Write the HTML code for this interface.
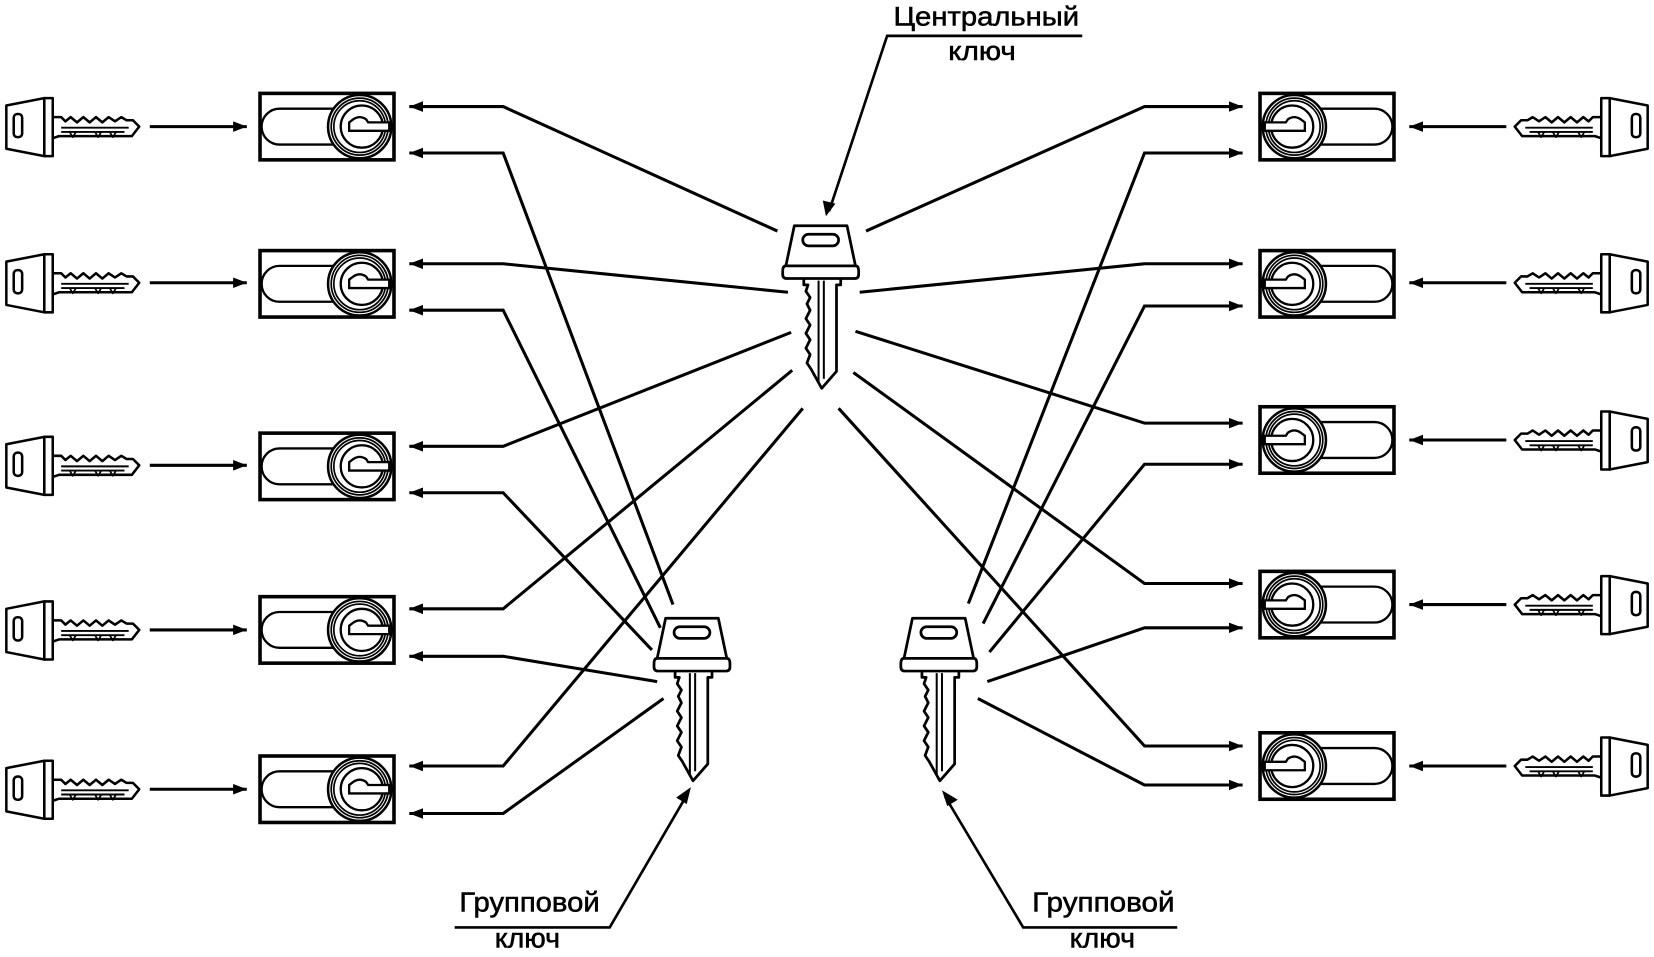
<!DOCTYPE html>
<html><head><meta charset="utf-8"><style>
html,body{margin:0;padding:0;background:#fff;}
svg{display:block;}
text{font-family:"Liberation Sans",Arial,sans-serif;fill:#000;stroke:#000;stroke-width:0.5;}
</style></head><body>
<svg width="1654" height="957" viewBox="0 0 1568 907" preserveAspectRatio="none" xmlns="http://www.w3.org/2000/svg">
<defs>
<marker id="ah" markerUnits="userSpaceOnUse" markerWidth="14" markerHeight="12" refX="13" refY="5" orient="auto">
<path d="M0,0 L13,5 L0,10 z" fill="#000"/>
</marker>
<g id="lock" fill="none" stroke="#000">
<rect x="1.5" y="1.5" width="127" height="63" stroke-width="3.4" fill="#fff"/>
<path d="M72,16 L20,16 A17,17 0 0 0 20,50 L72,50" stroke-width="2.2"/>
<circle cx="96" cy="33" r="30" stroke-width="2.4" fill="#fff"/>
<circle cx="96" cy="33" r="27" stroke-width="1.6"/>
<circle cx="96" cy="33" r="24.5" stroke-width="1.6"/>
<circle cx="98" cy="33" r="20" stroke-width="2.2"/>
<path d="M90,26 Q96,22 102,26 L104,29 L124,29 L124,37 L86,37 L86,29 Z" stroke-width="2.2" fill="#fff"/>
</g>
<g id="sk" fill="#fff" stroke="#000" stroke-width="2.4" stroke-linejoin="round">
<path d="M46,-9 L54,-9 L58,-5 L63,-9 L69,-4 L75,-9 L81,-4 L87,-9 L93,-4 L99,-9 L105,-5 L111,-9 L116,-6 L122,-6 L128,0 L121,9 L52,9 L46,11 Z"/>
<path d="M54,1 L118,1 M54,5 L114,5" fill="none" stroke-width="1.8"/>
<path d="M62,5 L65,10 L68,5 M86,5 L89,10 L92,5 M100,5 L103,10 L106,5" fill="none" stroke-width="1.6"/>
<polygon points="2,-20 38,-27 38,28 2,21"/>
<rect x="38" y="-27" width="8" height="55"/>
<rect x="9" y="-12" width="8" height="22" rx="3.5"/>
</g>
<g id="bk" fill="#fff" stroke="#000" stroke-width="2.6" stroke-linejoin="round">
<path d="M-16,48 L-16,56 L-12,56 L-14,62 L-10,68 L-13,74 L-10,80 L-14,88 L-10,94 L-14,102 L-10,108 L-14,116 L-10,122 L-13,130 L-9,136 L1,154 L15,138 L15,56 L19,56 L19,48 Z"/>
<path d="M-2,52 L-2,148 M3,52 L3,145" fill="none" stroke-width="1.9"/>
<path d="M-25,0 L25,0 L33,38 L-33,38 Z"/>
<path d="M-33,38 L33,38 Q36,38 36,43 L36,46 Q36,50 32,50 L-32,50 Q-36,50 -36,46 L-36,43 Q-36,38 -33,38 Z"/>
<rect x="-17" y="8" width="34" height="11" rx="5.5"/>
</g>
</defs>

<use href="#lock" x="245" y="87"/>
<use href="#lock" x="245" y="236"/>
<use href="#lock" x="245" y="409"/>
<use href="#lock" x="245" y="564"/>
<use href="#lock" x="245" y="715"/>
<use href="#lock" transform="translate(1323,87) scale(-1,1)"/>
<use href="#lock" transform="translate(1323,236) scale(-1,1)"/>
<use href="#lock" transform="translate(1323,384) scale(-1,1)"/>
<use href="#lock" transform="translate(1323,540) scale(-1,1)"/>
<use href="#lock" transform="translate(1323,693) scale(-1,1)"/>

<use href="#sk" transform="translate(4,120)"/>
<use href="#sk" transform="translate(4,268)"/>
<use href="#sk" transform="translate(4,441)"/>
<use href="#sk" transform="translate(4,597)"/>
<use href="#sk" transform="translate(4,748)"/>
<use href="#sk" transform="translate(1564,120) scale(-1,1)"/>
<use href="#sk" transform="translate(1564,268) scale(-1,1)"/>
<use href="#sk" transform="translate(1564,417) scale(-1,1)"/>
<use href="#sk" transform="translate(1564,573) scale(-1,1)"/>
<use href="#sk" transform="translate(1564,726) scale(-1,1)"/>

<g fill="none" stroke="#000" stroke-width="2.9" marker-end="url(#ah)">
<path d="M142,120 L234,120"/>
<path d="M142,268 L234,268"/>
<path d="M142,441 L234,441"/>
<path d="M142,597 L234,597"/>
<path d="M142,748 L234,748"/>
<path d="M1428,120 L1336,120"/>
<path d="M1428,268 L1336,268"/>
<path d="M1428,417 L1336,417"/>
<path d="M1428,573 L1336,573"/>
<path d="M1428,726 L1336,726"/>
<path d="M737,219 L477,101 L388,101"/>
<path d="M638,573 L477,145 L388,145"/>
<path d="M747,277 L477,250 L388,250"/>
<path d="M626,595 L477,294 L388,294"/>
<path d="M750,315 L477,423 L388,423"/>
<path d="M618,616 L477,467 L388,467"/>
<path d="M751,351 L477,577 L388,577"/>
<path d="M623,646 L477,622 L388,622"/>
<path d="M761,387 L477,726 L388,726"/>
<path d="M629,662 L477,771 L388,771"/>
<path d="M821,219 L1085,101 L1178,101"/>
<path d="M918,572 L1085,145 L1178,145"/>
<path d="M815,277 L1085,250 L1178,250"/>
<path d="M932,591 L1085,290 L1178,290"/>
<path d="M811,314 L1085,401 L1178,401"/>
<path d="M938,618 L1085,440 L1178,440"/>
<path d="M809,353 L1085,553 L1178,553"/>
<path d="M936,646 L1085,595 L1178,595"/>
<path d="M795,387 L1085,707 L1178,707"/>
<path d="M927,662 L1085,744 L1178,744"/>
</g>

<use href="#bk" transform="translate(778,214)"/>
<use href="#bk" transform="translate(656,586)"/>
<use href="#bk" transform="translate(890,586)"/>

<g fill="none" stroke="#000" stroke-width="2.5">
<path d="M1026,34 L841,34 L786,200" />
<path d="M431,879 L578,879 L652,752"/>
<path d="M1116,879 L970,879 L896,755"/>
</g>
<g fill="#000">
<path d="M783,205 L780,190 L792,193 Z"/>
<path d="M655,746 L651,762 L641,756 Z"/>
<path d="M893,749 L908,758 L898,764 Z"/>
</g>
<text x="935" y="24" font-size="25" text-anchor="middle" textLength="176" lengthAdjust="spacingAndGlyphs">Центральный</text>
<text x="931" y="57" font-size="25" text-anchor="middle" textLength="64" lengthAdjust="spacingAndGlyphs">ключ</text>
<text x="502" y="864" font-size="26" text-anchor="middle" textLength="133" lengthAdjust="spacingAndGlyphs">Групповой</text>
<text x="500" y="898" font-size="26" text-anchor="middle" textLength="62" lengthAdjust="spacingAndGlyphs">ключ</text>
<text x="1046" y="864" font-size="26" text-anchor="middle" textLength="135" lengthAdjust="spacingAndGlyphs">Групповой</text>
<text x="1045" y="898" font-size="26" text-anchor="middle" textLength="62" lengthAdjust="spacingAndGlyphs">ключ</text>
</svg>
</body></html>
